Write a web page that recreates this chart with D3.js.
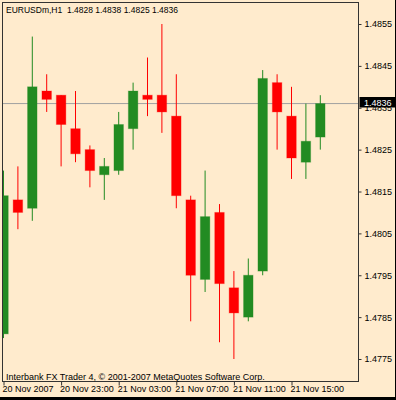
<!DOCTYPE html>
<html>
<head>
<meta charset="utf-8">
<script src="https://cdn.jsdelivr.net/npm/d3@7"></script>
<style>
  body { margin: 0; background: #ffebcd; }
  svg { display: block; }
  text { font-family: "Liberation Sans", Arial, sans-serif; font-size: 9px; fill: #000; }
</style>
</head>
<body>
<svg id="chart"></svg>
<script>
// hourly bars, EURUSDm H1
const times = [
  "2007-11-20 19:00", "2007-11-20 20:00", "2007-11-20 21:00", "2007-11-20 22:00",
  "2007-11-20 23:00", "2007-11-21 00:00", "2007-11-21 01:00", "2007-11-21 02:00",
  "2007-11-21 03:00", "2007-11-21 04:00", "2007-11-21 05:00", "2007-11-21 06:00",
  "2007-11-21 07:00", "2007-11-21 08:00", "2007-11-21 09:00", "2007-11-21 10:00",
  "2007-11-21 11:00", "2007-11-21 12:00", "2007-11-21 13:00", "2007-11-21 14:00",
  "2007-11-21 15:00", "2007-11-21 16:00", "2007-11-21 17:00"
];
const open  = [1.4781, 1.4813, 1.4811, 1.4839, 1.4838, 1.4830, 1.4825, 1.4819, 1.4820, 1.4830, 1.4838, 1.4838,
               1.4833, 1.4813, 1.4794, 1.4810, 1.4792, 1.4785, 1.4796, 1.4841, 1.4833, 1.4822, 1.4828];
const high  = [1.4820, 1.4821, 1.4852, 1.4843, 1.4838, 1.4839, 1.4826, 1.4823, 1.4834, 1.4841, 1.4847, 1.4855,
               1.4843, 1.4814, 1.4820, 1.4812, 1.4796, 1.4799, 1.4844, 1.4843, 1.4840, 1.4836, 1.4838];
const low   = [1.4780, 1.4806, 1.4808, 1.4834, 1.4821, 1.4822, 1.4816, 1.4813, 1.4819, 1.4825, 1.4833, 1.4829,
               1.4811, 1.4784, 1.4791, 1.4779, 1.4775, 1.4784, 1.4795, 1.4825, 1.4818, 1.4818, 1.4825];
const close = [1.4814, 1.4810, 1.4840, 1.4837, 1.4831, 1.4824, 1.4820, 1.4821, 1.4831, 1.4839, 1.4837, 1.4834,
               1.4814, 1.4795, 1.4809, 1.4793, 1.4786, 1.4795, 1.4842, 1.4834, 1.4823, 1.4827, 1.4836];

const priceTicks = [1.4855, 1.4845, 1.4835, 1.4825, 1.4815, 1.4805, 1.4795, 1.4785, 1.4775];
const timeTicks = ["2007-11-20 19:00", "2007-11-20 23:00", "2007-11-21 03:00", "2007-11-21 07:00", "2007-11-21 11:00", "2007-11-21 15:00"];
const timeTickLabels = ["20 Nov 2007", "20 Nov 23:00", "21 Nov 03:00", "21 Nov 07:00", "21 Nov 11:00", "21 Nov 15:00"];
const symbol = "EURUSDm,H1";
const lastPrice = 1.4836;

const width = 396, height = 400;
const plot = { left: 2, top: 2, right: 358, bottom: 381 };

const parse = d3.timeParse("%Y-%m-%d %H:%M");
const bars = times.map((t, i) => ({ t: parse(t), o: open[i], h: high[i], l: low[i], c: close[i] }));

const x = d3.scaleTime()
  .domain([parse(times[0]), parse(times[times.length - 1])])
  .range([3.5, 320.3]);

const y = d3.scaleLinear()
  .domain([1.4775, 1.4855])
  .range([359, 24]);

const svg = d3.select('#chart')
  .attr('width', width)
  .attr('height', height);

svg.append('rect').attr('width', width).attr('height', height).attr('fill', '#ffebcd');

svg.append('clipPath').attr('id', 'clip')
  .append('rect')
  .attr('x', plot.left).attr('y', plot.top)
  .attr('width', plot.right - plot.left).attr('height', plot.bottom - plot.top);

const g = svg.append('g').attr('clip-path', 'url(#clip)');

// current price line
g.append('line')
  .attr('x1', plot.left).attr('x2', plot.right)
  .attr('y1', y(lastPrice)).attr('y2', y(lastPrice))
  .attr('stroke', '#a0a0a0').attr('stroke-width', 1);

const up = '#228b22', down = '#ff0000';

// wicks
g.selectAll('line.wick')
  .data(bars)
  .enter()
  .append('line')
  .attr('class', 'wick')
  .attr('x1', d => x(d.t)).attr('x2', d => x(d.t))
  .attr('y1', d => y(d.h)).attr('y2', d => y(d.l))
  .attr('stroke', d => d.c >= d.o ? up : down)
  .attr('stroke-width', 1);

// bodies
const bodyW = 9.5;
g.selectAll('rect.body')
  .data(bars)
  .enter()
  .append('rect')
  .attr('class', 'body')
  .attr('x', d => x(d.t) - bodyW / 2)
  .attr('width', bodyW)
  .attr('y', d => y(Math.max(d.o, d.c)))
  .attr('height', d => Math.max(1, Math.abs(y(d.o) - y(d.c))))
  .attr('fill', d => d.c >= d.o ? up : down)
  .attr('stroke', d => d.c >= d.o ? up : down)
  .attr('stroke-opacity', 0.3);

// frame
svg.append('rect')
  .attr('x', plot.left + 0.5).attr('y', plot.top + 0.5)
  .attr('width', plot.right - plot.left).attr('height', plot.bottom - plot.top)
  .attr('fill', 'none').attr('stroke', '#333');

// price axis
const yAxis = svg.append('g')
  .attr('transform', `translate(${plot.right + 0.5},0)`)
  .call(d3.axisRight(y).tickValues(priceTicks).tickSize(3).tickPadding(3).tickFormat(d3.format('.4f')));
yAxis.select('.domain').remove();
yAxis.selectAll('line').attr('stroke', '#333');
yAxis.selectAll('text').style('font-size', '9px').attr('fill', '#000');

// time axis
const xAxis = svg.append('g')
  .attr('transform', `translate(0,${plot.bottom + 0.5})`)
  .call(d3.axisBottom(x).tickValues(timeTicks.map(parse)).tickSize(4).tickFormat((d, i) => timeTickLabels[i]));
xAxis.select('.domain').remove();
xAxis.selectAll('line').attr('stroke', '#333');
xAxis.selectAll('text')
  .attr('text-anchor', 'start')
  .attr('x', -1.5)
  .attr('y', 4)
  .style('font-size', '9px')
  .attr('fill', '#000');

// last price tag
svg.append('rect')
  .attr('x', plot.right + 1.5).attr('y', 97)
  .attr('width', 37).attr('height', 10.5)
  .attr('fill', '#000');
svg.append('text')
  .attr('x', plot.right + 6).attr('y', 105.5)
  .style('fill', '#fff')
  .text(d3.format('.4f')(lastPrice));

// header
const f4 = d3.format('.4f');
svg.append('text')
  .attr('x', 6).attr('y', 12.5)
  .attr('xml:space', 'preserve')
  .style('font-size', '8.5px')
  .text(`${symbol}  ${f4(open[open.length - 1])} ${f4(high[high.length - 1])} ${f4(low[low.length - 1])} ${f4(close[close.length - 1])}`);

// footer
svg.append('text')
  .attr('x', 6).attr('y', 379.5)
  .text('Interbank FX Trader 4, © 2001-2007 MetaQuotes Software Corp.');

// window edge
svg.append('rect').attr('x', 0).attr('y', 397).attr('width', width).attr('height', 3).attr('fill', '#000');
svg.append('rect').attr('x', 395).attr('y', 0).attr('width', 1).attr('height', height).attr('fill', '#000');
</script>
</body>
</html>
